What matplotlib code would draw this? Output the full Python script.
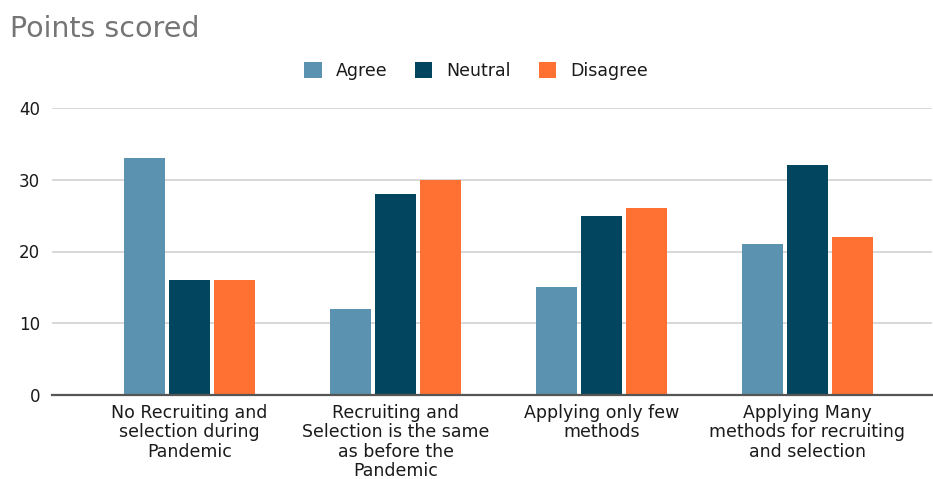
import matplotlib
matplotlib.use("Agg")
import matplotlib.pyplot as plt
import numpy as np

categories = ["No Recruiting and\nselection during\nPandemic",
              "Recruiting and\nSelection is the same\nas before the\nPandemic",
              "Applying only few\nmethods",
              "Applying Many\nmethods for recruiting\nand selection"]
series_names = ["Agree", "Neutral", "Disagree"]
agree = [33, 12, 15, 21]
neutral = [16, 28, 25, 32]
disagree = [16, 30, 26, 22]
yticks = [0, 10, 20, 30, 40]
colors = ["#5B92AF", "#02455F", "#FF7033"]

plt.rcParams['font.family'] = ['DejaVu Sans']

W, H = 933, 479
fig = plt.figure(figsize=(W / 100, H / 100), dpi=100)
ax = fig.add_axes([52 / W, 1 - 395 / H, 880 / W, (395 - 108) / H])

x = np.arange(len(categories))
bw = 0.2015
off = 0.2184
for i, (vals, c, n) in enumerate(zip([agree, neutral, disagree], colors, series_names)):
    ax.bar(x + (i - 1) * off, vals, width=bw, color=c, label=n, zorder=3)

ax.set_xlim((52 - 189.5) / 206, (932 - 189.5) / 206)
ax.set_ylim(0, 40)
ax.set_yticks(yticks)
ax.set_yticklabels([str(t) for t in yticks])
ax.set_xticks(x)
ax.set_xticklabels(categories, fontsize=12.5, color="#1a1a1a", linespacing=1.1)
ax.tick_params(axis='y', length=0, pad=8.5, labelsize=12, labelcolor="#1a1a1a")
ax.tick_params(axis='x', length=0, pad=6.5)
ax.grid(axis='y', color="#D6D6D6", linewidth=1.3, zorder=0)
for s in ["top", "right", "left"]:
    ax.spines[s].set_visible(False)
ax.spines["bottom"].set_color("#555555")
ax.spines["bottom"].set_linewidth(1.6)
ax.spines["bottom"].set_zorder(4)

fig.text(10 / W, 1 - 37 / H, "Points scored", fontsize=20.5, color="#757575",
         va="baseline", ha="left")

leg = fig.legend(loc="center", bbox_to_anchor=(476 / W, 1 - 71 / H), ncol=3,
                 frameon=False, fontsize=12.5, handlelength=1.0, handleheight=1.0,
                 handletextpad=0.8, columnspacing=1.6)
for t in leg.get_texts():
    t.set_color("#1a1a1a")

fig.savefig("out.png", dpi=100)
